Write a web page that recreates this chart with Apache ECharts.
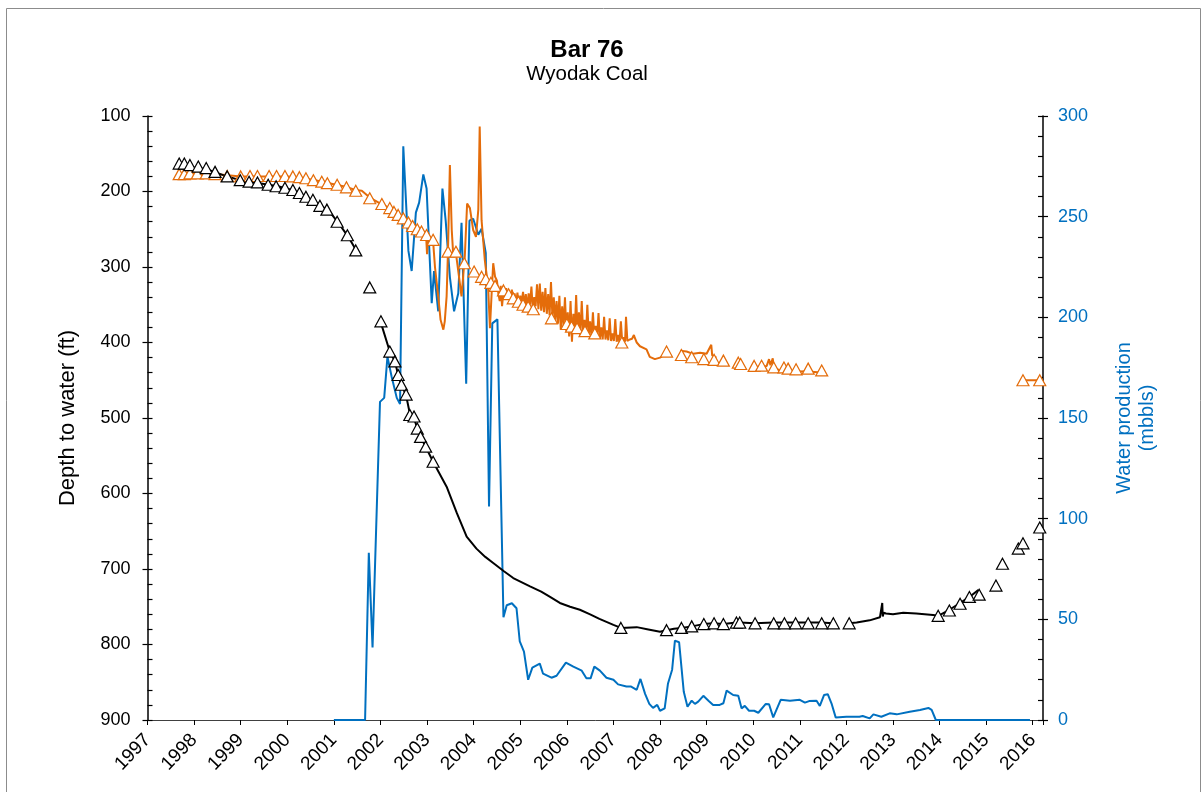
<!DOCTYPE html>
<html>
<head>
<meta charset="utf-8">
<script src="https://cdn.jsdelivr.net/npm/echarts@6/dist/echarts.min.js"></script>
<style>
html,body{margin:0;padding:0;background:#fff;}
#chart{width:1202px;height:792px;}
</style>
</head>
<body>
<div id="chart"></div>
<script>
// ---- Data (x = decimal year) ----
const titleText = 'Bar 76';
const subtitleText = 'Wyodak Coal';
const leftAxisName = 'Depth to water (ft)';
const rightAxisName = 'Water production\n(mbbls)';

// Water production (mbbls), right axis
const waterProduction = [
[2001.0,0],[2001.67,0],[2001.75,83],[2001.83,36],[2001.99,158],[2002.08,160],[2002.15,180.5],[2002.24,170.5],[2002.35,160],[2002.42,157],
[2002.49,285],[2002.60,233],[2002.67,223],[2002.76,252],[2002.83,257],[2002.92,271],[2002.99,264],[2003.10,207],[2003.15,223],[2003.24,203],
[2003.33,264],[2003.40,248],[2003.49,220],[2003.58,203],[2003.67,212],[2003.74,247],[2003.84,167],[2003.91,248],[2003.99,249],[2004.10,241],
[2004.17,244],[2004.26,232],[2004.33,106],[2004.40,197],[2004.51,199],[2004.64,51],[2004.71,57],[2004.82,58],[2004.92,55.5],[2004.99,39],
[2005.08,34],[2005.17,20],[2005.26,26],[2005.42,28],[2005.49,23],[2005.67,21],[2005.78,22],[2005.98,28.5],[2006.14,26.5],[2006.32,24.5],
[2006.42,20.7],[2006.51,20.7],[2006.59,26.5],[2006.71,24.5],[2006.85,21],[2007.0,20],[2007.10,17.7],[2007.28,16.6],[2007.38,16.6],[2007.50,15],
[2007.58,20.4],[2007.68,13],[2007.77,8],[2007.85,6],[2007.94,7.5],[2008.0,4.6],[2008.10,5.8],[2008.17,18],[2008.26,25],[2008.32,39.4],
[2008.41,38.6],[2008.51,14],[2008.59,6.6],[2008.68,9.6],[2008.75,8],[2008.82,9.1],[2008.93,12],[2009.04,9.6],[2009.14,7.5],[2009.28,7.5],
[2009.36,8.3],[2009.43,14.6],[2009.57,12.4],[2009.68,12],[2009.75,5.8],[2009.82,7],[2009.91,4.6],[2010.02,4.6],[2010.11,3.6],[2010.27,8],
[2010.34,7.8],[2010.43,1.3],[2010.59,10],[2010.79,9.6],[2011.0,10],[2011.11,8.6],[2011.20,9.4],[2011.36,9.6],[2011.43,7],[2011.52,12.4],
[2011.60,12.8],[2011.68,8.3],[2011.77,1.3],[2012.0,1.6],[2012.28,1.6],[2012.35,2],[2012.50,0.8],[2012.58,2.8],[2012.75,1.6],[2012.93,3.3],
[2013.08,2.8],[2013.36,4.1],[2013.58,5],[2013.76,6],[2013.83,5],[2013.92,0],[2015.94,0]
];

// Depth to water, transducer (orange line), left axis
const orangeLine = [
[1997.65,177],[1998.0,176],[1998.5,177],[1999.0,180],[1999.5,180],[2000.0,180],[2000.3,182],[2000.6,185],[2000.9,189],[2001.2,193],
[2001.47,198],[2001.6,199],[2001.77,208],[2002.0,216],[2002.2,222],[2002.4,231],[2002.6,240],[2002.85,251],[2002.98,259],[2003.0,283],
[2003.02,260],[2003.13,266],[2003.17,300],[2003.24,339],[2003.29,370],[2003.35,383],[2003.38,372],[2003.42,339],[2003.45,277],[2003.49,165],
[2003.53,251],[2003.56,282],[2003.62,282],[2003.68,310],[2003.74,339],[2003.81,286],[2003.86,216],[2003.92,222],[2003.99,251],[2004.05,260],
[2004.10,224],[2004.13,114],[2004.17,238],[2004.24,291],[2004.31,326],[2004.35,381],[2004.39,330],[2004.42,295],[2004.46,313],[2004.50,318],
[2004.53,335],[2004.56,345],[2004.58,325],[2004.61,352],[2004.64,332],[2004.67,340],[2004.70,328],[2004.73,343],[2004.76,333],[2004.79,348],
[2004.82,330],[2004.85,345],[2004.88,335],[2004.91,349],[2004.94,334],[2004.97,352],[2005.00,338],[2005.03,347],[2005.06,333],[2005.09,350],
[2005.12,336],[2005.15,355],[2005.18,335],[2005.21,350],[2005.24,326],[2005.27,357],[2005.30,340],[2005.33,352],[2005.36,323],[2005.39,356],
[2005.42,322],[2005.45,358],[2005.48,333],[2005.51,360],[2005.54,328],[2005.57,362],[2005.60,336],[2005.63,364],[2005.66,320],[2005.69,366],
[2005.72,340],[2005.75,372],[2005.78,345],[2005.81,375],[2005.84,338],[2005.87,383],[2005.90,352],[2005.93,378],[2005.96,340],[2005.99,385],
[2006.02,360],[2006.05,392],[2006.08,345],[2006.11,399],[2006.14,362],[2006.17,385],[2006.20,337],[2006.23,388],[2006.26,360],[2006.29,390],
[2006.32,345],[2006.35,387],[2006.38,370],[2006.41,392],[2006.44,350],[2006.47,389],[2006.50,372],[2006.53,393],[2006.56,360],[2006.59,392],
[2006.62,378],[2006.65,394],[2006.68,361],[2006.71,395],[2006.74,380],[2006.77,396],[2006.80,366],[2006.83,396],[2006.86,384],[2006.89,397],
[2006.92,368],[2006.95,398],[2006.98,388],[2007.01,398],[2007.04,369],[2007.07,399],[2007.10,390],[2007.13,400],[2007.16,372],[2007.19,400],
[2007.22,393],[2007.25,399],[2007.27,366],[2007.30,398],[2007.35,396],[2007.40,395],[2007.44,390],[2007.46,394],[2007.50,400],[2007.57,405],
[2007.71,409],[2007.78,419],[2007.89,422],[2008.0,420],[2008.10,416],[2008.14,412],[2008.2,'-'],
[2008.43,411],[2008.57,412],[2008.71,415],[2008.86,413.5],[2009.0,415],[2009.10,403],[2009.12,417],[2009.21,420],[2009.25,'-'],
[2010.0,434],[2010.14,433],[2010.29,431],[2010.34,422],[2010.37,430],[2010.42,421],[2010.44,433],[2010.57,437],[2010.86,438.6],[2011.14,438],
[2011.50,440],[2011.6,'-'],
[2015.79,450],[2016.15,450]
];

// Depth to water, transducer (black line), left axis
const blackLine = [
[1997.95,168],[1998.3,171],[1998.7,180],[1999.0,185],[1999.4,189],[1999.8,193],[2000.1,198],[2000.4,207],[2000.7,218],[2000.9,226],
[2001.1,242],[2001.3,259],[2001.5,280],[2001.7,'-'],
[2002.0,372],[2002.2,412],[2002.31,425],[2002.38,443],[2002.45,456],[2002.55,470],[2002.63,494],[2002.72,500],[2002.79,514],[2002.86,525],
[2002.97,538],[2003.13,558],[2003.42,591],[2003.64,626],[2003.85,657],[2004.06,673],[2004.25,684],[2004.42,692],[2004.65,703],[2004.85,712],
[2005.21,723],[2005.45,730],[2005.64,737],[2005.85,745],[2006.07,750],[2006.28,754],[2006.50,760],[2006.7,766],[2007.0,774],[2007.16,778],
[2007.5,777],[2007.75,780],[2008.0,783],[2008.14,781],[2008.3,779],[2008.46,778],[2008.68,776],[2008.93,773],[2009.14,772],[2009.36,773],
[2009.64,771],[2009.71,771],[2010.04,772],[2010.43,771],[2010.9,771],[2011.2,771],[2011.45,771],[2011.72,772],[2011.9,'-'],
[2012.06,772],[2012.22,771],[2012.5,768],[2012.72,764],[2012.76,764],[2012.77,745],[2012.78,763],[2012.80,758],[2012.85,759],[2013.0,760],
[2013.22,758],[2013.5,759],[2013.86,761],[2013.97,762],[2014.21,754],[2014.44,745],[2014.64,737],[2014.83,728],[2014.85,734]
];

// Manual measurements (black triangles), left axis
const blackTriangles = [
[1997.68,163],[1997.79,163],[1997.91,165],[1998.09,167],[1998.26,169],[1998.45,174],[1998.71,180],[1998.99,185],[1999.18,187],[1999.36,188],
[1999.59,191],[1999.76,193],[1999.95,195],[2000.12,198],[2000.26,202],[2000.40,207],[2000.55,211],[2000.70,219],[2000.85,224],[2001.07,240],
[2001.29,258],[2001.47,278],[2001.77,327],
[2002.01,372],[2002.20,412],[2002.31,425],[2002.38,443],[2002.45,456],[2002.55,469],[2002.63,496],[2002.72,498],[2002.79,514],[2002.86,525],
[2002.97,538],[2003.13,558],
[2007.16,778],[2008.14,781],[2008.46,778],[2008.68,776],[2008.94,773],[2009.16,772],[2009.36,773],[2009.64,771],[2009.71,771],[2010.04,772],
[2010.44,772],[2010.67,772],[2010.91,772],[2011.18,772],[2011.47,772],[2011.72,772],[2012.06,772],
[2013.97,762],[2014.21,755],[2014.44,746],[2014.64,737],[2014.85,734],[2015.21,722],[2015.35,693],[2015.69,673],[2015.79,666],[2016.15,645]
];

// Manual measurements (orange triangles), left axis
const orangeTriangles = [
[1997.68,177],[1997.79,177],[1997.91,176],[1998.07,176],[1998.26,176],[1998.45,177],[1998.71,179.5],[1999.0,180],[1999.20,179.5],[1999.36,179.5],
[1999.61,179.5],[1999.77,179.5],[1999.95,179.5],[2000.12,180],[2000.26,181],[2000.40,182.5],[2000.56,185],[2000.74,187],[2000.86,189],[2001.07,191],
[2001.27,194.5],[2001.47,199],[2001.77,209],[2002.03,216.6],[2002.20,222],[2002.29,227],[2002.38,231],[2002.49,235.5],[2002.60,241],[2002.69,245.7],
[2002.79,250],[2002.88,253],[2002.99,257.6],[2003.13,264],[2003.45,279.7],[2003.62,279.7],[2003.80,295],[2004.01,306],[2004.17,313],[2004.26,316],
[2004.37,321],[2004.46,325],[2004.64,331],[2004.75,336],[2004.85,341.5],[2004.96,346],[2005.06,350],[2005.17,352.5],[2005.28,356],[2005.67,368],
[2006.0,375.5],[2006.10,379],[2006.22,381],[2006.39,385],[2006.60,388],[2007.18,400],
[2008.14,412],[2008.46,416.6],[2008.68,419.6],[2008.94,422],[2009.16,423],[2009.36,424],[2009.68,426.7],[2009.73,428.5],[2010.02,431],[2010.18,430.7],
[2010.44,433],[2010.66,433],[2010.75,434.6],[2010.92,435.5],[2011.18,434.6],[2011.47,437],
[2015.79,450],[2016.15,450]
];

const xMin = 1997, xMax = 2016.22;
const FONT = '"Liberation Sans", Arial, sans-serif';
const BLUE = '#0070C0', ORANGE = '#E46C0A', BLACK = '#000000';

const chart = echarts.init(document.getElementById('chart'), null, {renderer:'canvas'});
const tri = (data, color) => ({
  type:'line', data, yAxisIndex:0, symbol:'triangle', symbolSize:[12,11], showSymbol:true,
  lineStyle:{width:0, opacity:0}, itemStyle:{color:'#fff', borderColor:color, borderWidth:1.2},
  z:5, silent:true
});
const line = (data, color, yIdx) => ({
  type:'line', data, yAxisIndex:yIdx, showSymbol:false, symbol:'none', connectNulls:false,
  lineStyle:{width:2, color}, itemStyle:{color}, z:3, silent:true
});

chart.setOption({
  animation:false,
  backgroundColor:'#fff',
  textStyle:{fontFamily:FONT},
  title:{
    text:titleText, subtext:subtitleText, left:582, top:33, textAlign:'center', itemGap:2,
    textStyle:{fontFamily:FONT, fontSize:24, fontWeight:'bold', color:'#000'},
    subtextStyle:{fontFamily:FONT, fontSize:20.5, color:'#000'}
  },
  grid:{left:147.5, right:159, top:116, bottom:72, containLabel:false},
  xAxis:{
    type:'value', min:xMin, max:xMax, interval:1,
    axisLine:{show:true, lineStyle:{color:'#404040', width:1}},
    axisTick:{show:true, length:5, lineStyle:{color:'#000', width:1}},
    axisLabel:{rotate:46, fontSize:19, color:'#000', margin:17, fontFamily:FONT,
      formatter:v => Math.abs(v-Math.round(v))<1e-6 ? String(Math.round(v)) : ''},
    splitLine:{show:false}
  },
  yAxis:[
    {type:'value', position:'left', inverse:true, min:100, max:900, interval:100,
     name:leftAxisName, nameLocation:'middle', nameGap:69, nameRotate:90,
     nameTextStyle:{fontFamily:FONT, fontSize:22, color:'#000'},
     axisLine:{show:true, lineStyle:{color:'#000', width:1.5}},
     axisTick:{show:true, inside:true, length:5, lineStyle:{color:'#000', width:1.2}},
     minorTick:{show:true, splitNumber:5, length:5, lineStyle:{color:'#000', width:1.2}},
     axisLabel:{fontSize:18, color:'#000', margin:17, fontFamily:FONT},
     splitLine:{show:false}},
    {type:'value', position:'right', min:0, max:300, interval:50,
     name:rightAxisName, nameLocation:'middle', nameGap:70, nameRotate:90,
     nameTextStyle:{fontFamily:FONT, fontSize:20, color:BLUE, lineHeight:23},
     axisLine:{show:true, lineStyle:{color:'#000', width:1.5}},
     axisTick:{show:true, inside:true, length:5, lineStyle:{color:'#000', width:1.2}},
     minorTick:{show:true, splitNumber:5, length:5, lineStyle:{color:'#000', width:1.2}},
     axisLabel:{fontSize:18, color:BLUE, margin:15, fontFamily:FONT},
     splitLine:{show:false}},
    {type:'value', position:'left', inverse:true, min:100, max:900, interval:100,
     axisLine:{show:false}, axisTick:{show:true, inside:false, length:5, lineStyle:{color:'#000', width:1.2}},
     axisLabel:{show:false}, splitLine:{show:false}},
    {type:'value', position:'right', min:0, max:300, interval:50,
     axisLine:{show:false}, axisTick:{show:true, inside:false, length:5, lineStyle:{color:'#000', width:1.2}},
     axisLabel:{show:false}, splitLine:{show:false}}
  ],
  graphic:[{type:'rect', shape:{x:6.5, y:8.5, width:1194, height:800},
    style:{fill:'none', stroke:'#8c8c8c', lineWidth:1}, silent:true, z:-10}],
  series:[
    line(waterProduction, BLUE, 1),
    line(orangeLine, ORANGE, 0),
    line(blackLine, BLACK, 0),
    tri(orangeTriangles, ORANGE),
    tri(blackTriangles, BLACK)
  ]
});
</script>
</body>
</html>
